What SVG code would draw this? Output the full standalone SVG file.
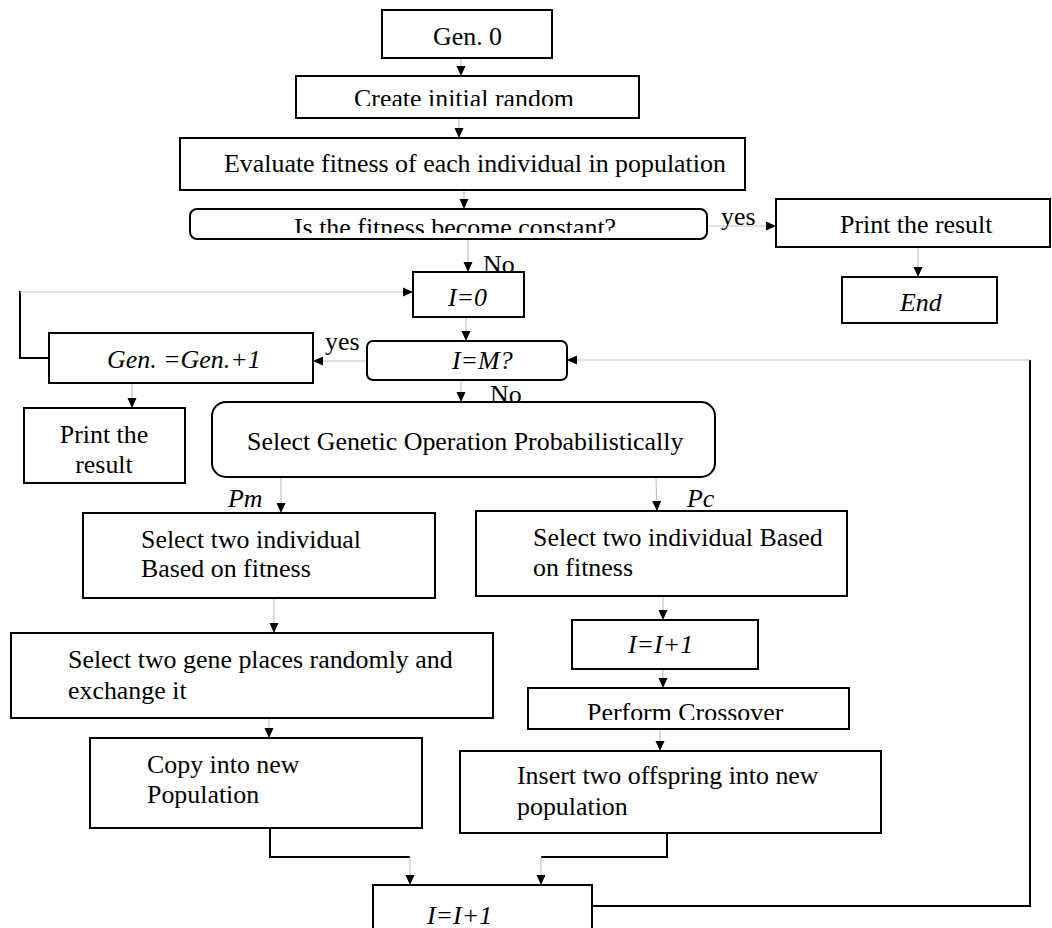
<svg xmlns="http://www.w3.org/2000/svg" width="1052" height="928" viewBox="0 0 1052 928">
<defs>
<marker id="ah" markerWidth="10" markerHeight="10" refX="10" refY="5" orient="auto" markerUnits="userSpaceOnUse"><path d="M0,0.5 L10,5 L0,9.5 z" fill="#000"/></marker>
<clipPath id="cCreate"><rect x="296" y="76" width="343" height="30"/></clipPath>
<clipPath id="cDec"><rect x="190" y="209" width="517" height="24"/></clipPath>
<clipPath id="cPerf"><rect x="528" y="688" width="321" height="32"/></clipPath>
</defs>
<style>
.b{fill:#fff;stroke:#000;stroke-width:2}
.t{font-family:"Liberation Serif","Times New Roman",serif;font-size:25.9px;fill:#000}
.i{font-style:italic}
.ga{fill:none;stroke:#c4c4c4;stroke-width:1.2;marker-end:url(#ah)}
.k{fill:none;stroke:#000;stroke-width:2}
</style>
<rect width="1052" height="928" fill="#fff"/>
<g id="connectors">
<path class="ga" d="M461,58 V76"/>
<path class="ga" d="M459,118 V138"/>
<path class="ga" d="M464,190 V209"/>
<path class="ga" d="M707,226 H776"/>
<path class="ga" d="M918,247 V277"/>
<path class="ga" d="M468,239 V272"/>
<path class="ga" d="M466,317 V341"/>
<path class="ga" d="M367,361 H313"/>
<path class="k" d="M49,358 H20 V291"/>
<path class="ga" d="M20,292 H413"/>
<path class="ga" d="M132,383 V408"/>
<path class="ga" d="M461,380 V402"/>
<path class="ga" d="M281,477 V513"/>
<path class="ga" d="M656,477 L657,511"/>
<path class="ga" d="M274,598 V633"/>
<path class="ga" d="M663,596 V620"/>
<path class="ga" d="M269,718 V738"/>
<path class="ga" d="M663,669 V688"/>
<path class="ga" d="M660,729 V751"/>
<path class="k" d="M270,828 V857 H410"/>
<path class="ga" d="M410,857 V885"/>
<path class="k" d="M667,833 V857 H541"/>
<path class="ga" d="M541,857 V885"/>
<path class="k" d="M592,906 H1030 V360"/>
<path class="ga" d="M1030,360 H567"/>
</g>
<g id="gen0"><rect class="b" x="382" y="10" width="170" height="48"/><text class="t" x="433" y="45">Gen. 0</text></g>
<g id="create"><rect class="b" x="296" y="76" width="343" height="42"/><text class="t" x="354" y="107" clip-path="url(#cCreate)">Create initial random</text></g>
<g id="evaluate"><rect class="b" x="180" y="138" width="565" height="52"/><text class="t" x="224" y="172">Evaluate fitness of each individual in population</text></g>
<g id="decision"><rect class="b" x="190" y="209" width="517" height="30" rx="7"/><text class="t" x="294" y="236" clip-path="url(#cDec)">Is the fitness become constant?</text></g>
<g id="print-right"><rect class="b" x="776" y="199" width="274" height="48"/><text class="t" x="840" y="233">Print the result</text></g>
<g id="end"><rect class="b" x="842" y="277" width="155" height="46"/><text class="t i" x="900" y="311">End</text></g>
<g id="i0"><rect class="b" x="413" y="272" width="111" height="45"/><text class="t i" x="448" y="306">I=0</text></g>
<g id="iM"><rect class="b" x="367" y="341" width="200" height="39" rx="6"/><text class="t i" x="452" y="369">I=M?</text></g>
<g id="genplus"><rect class="b" x="49" y="333" width="264" height="50"/><text class="t i" x="107" y="368">Gen. =Gen.+1</text></g>
<g id="print-left"><rect class="b" x="24" y="408" width="161" height="75"/><text class="t" x="104" y="443" text-anchor="middle">Print the</text><text class="t" x="104" y="473" text-anchor="middle">result</text></g>
<g id="select-op"><rect class="b" x="212" y="402" width="503" height="75" rx="14"/><text class="t" x="247" y="450">Select Genetic Operation Probabilistically</text></g>
<g id="select-left"><rect class="b" x="83" y="513" width="352" height="85"/><text class="t" x="141" y="548">Select two individual</text><text class="t" x="141" y="577">Based on fitness</text></g>
<g id="select-right"><rect class="b" x="476" y="511" width="371" height="85"/><text class="t" x="533" y="546">Select two individual Based</text><text class="t" x="533" y="576">on fitness</text></g>
<g id="gene"><rect class="b" x="11" y="633" width="482" height="85"/><text class="t" x="68" y="668">Select two gene places randomly and</text><text class="t" x="68" y="699">exchange it</text></g>
<g id="inc1"><rect class="b" x="572" y="620" width="186" height="49"/><text class="t i" x="628" y="653">I=I+1</text></g>
<g id="perform"><rect class="b" x="528" y="688" width="321" height="41"/><text class="t" x="587" y="721" clip-path="url(#cPerf)">Perform Crossover</text></g>
<g id="copy"><rect class="b" x="90" y="738" width="332" height="90"/><text class="t" x="147" y="773">Copy into new</text><text class="t" x="147" y="803">Population</text></g>
<g id="insert"><rect class="b" x="460" y="751" width="421" height="82"/><text class="t" x="517" y="784">Insert two offspring into new</text><text class="t" x="517" y="815">population</text></g>
<g id="inc2"><rect class="b" x="373" y="885" width="219" height="60"/><text class="t i" x="427" y="924">I=I+1</text></g>
<g id="labels">
<text class="t" x="721" y="225">yes</text>
<text class="t" x="483" y="273">No</text>
<text class="t" x="325" y="350">yes</text>
<text class="t" x="490" y="403">No</text>
<text class="t i" x="228" y="507">Pm</text>
<text class="t i" x="687" y="507">Pc</text>
</g>
</svg>
